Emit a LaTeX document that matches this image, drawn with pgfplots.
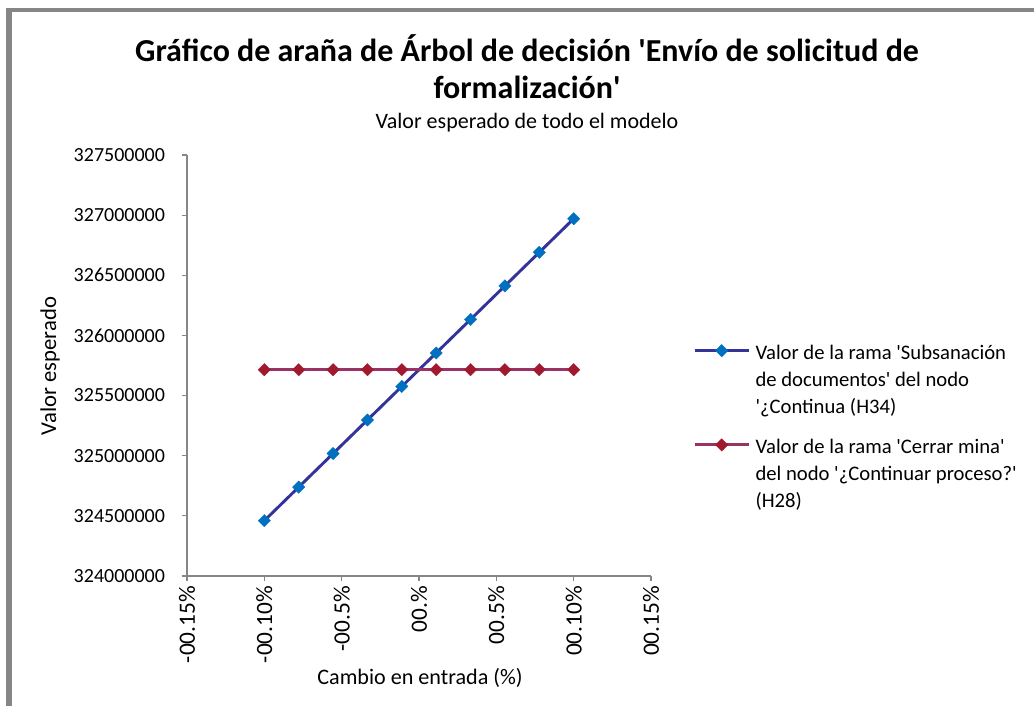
\documentclass[border=0pt]{standalone}
\usepackage{fontspec}
\setmainfont{Carlito}
\usepackage{pgfplots}
\pgfplotsset{compat=1.18}
\definecolor{axgray}{HTML}{868686}
\definecolor{blueline}{HTML}{333399}
\definecolor{bluemark}{HTML}{0070C0}
\definecolor{redline}{HTML}{993366}
\definecolor{redmark}{HTML}{A0192E}
\newcommand\q{\textquotesingle}
\pgfplotstableread{
x y
-0.1 324460000
-0.077778 324739000
-0.055556 325018000
-0.033333 325297000
-0.011111 325576000
0.011111 325854000
0.033333 326133000
0.055556 326412000
0.077778 326691000
0.1 326970000
}\bluedata
\pgfplotstableread{
x y
-0.1 325715000
-0.077778 325715000
-0.055556 325715000
-0.033333 325715000
-0.011111 325715000
0.011111 325715000
0.033333 325715000
0.055556 325715000
0.077778 325715000
0.1 325715000
}\reddata
\begin{document}
\begin{tikzpicture}
\useasboundingbox (0,0) rectangle (775.5pt,529.5pt);
\fill[axgray] (4.5pt,0pt) rectangle (9pt,523.5pt);
\fill[axgray] (4.5pt,523.5pt) rectangle (775.5pt,520.5pt);
\node[anchor=base, font=\fontsize{24}{28}\selectfont\bfseries] at (395.25pt,483pt) {Gráfico de araña de Árbol de decisión \q Envío de solicitud de};
\node[anchor=base, font=\fontsize{24}{28}\selectfont\bfseries] at (395.25pt,455.25pt) {formalización\q};
\node[anchor=base, font=\fontsize{16.5}{20}\selectfont] at (395.25pt,432.75pt) {Valor esperado de todo el modelo};
\node[rotate=90, font=\fontsize{17}{20}\selectfont] at (37.5pt,255pt) {Valor esperado};
\node[font=\fontsize{16.6}{20}\selectfont] at (315pt,21pt) {Cambio en entrada (\%)};
\begin{axis}[
 at={(140.25pt,97.5pt)}, anchor=south west,
 scale only axis, width=348pt, height=315.75pt,
 xmin=-0.15, xmax=0.15, ymin=324000000, ymax=327500000,
 axis lines=left, axis line style={-, axgray, line width=0.9pt},
 tick align=outside, major tick length=4pt,
 tick style={axgray, line width=0.9pt},
 xtick={-0.15,-0.1,-0.05,0,0.05,0.1,0.15},
 xticklabels={-00.15\%,-00.10\%,-00.5\%,00.\%,00.5\%,00.10\%,00.15\%},
 xticklabel style={rotate=90, anchor=east, font=\fontsize{17.5}{20}\selectfont},
 ytick={324000000,324500000,325000000,325500000,326000000,326500000,327000000,327500000},
 yticklabels={324000000,324500000,325000000,325500000,326000000,326500000,327000000,327500000},
 yticklabel style={font=\fontsize{15}{18}\selectfont, xshift=-9pt},
 scaled y ticks=false, scaled x ticks=false,
 clip=false,
 legend style={at={(1.0905,0.567)}, anchor=north west, draw=none, fill=none,
   inner sep=0pt, row sep=51pt, column sep=2pt,
   font=\fontsize{15.5}{20.25}\selectfont},
 legend cell align=left,
 legend image code/.code={\draw[mark repeat=2,mark phase=2,#1] plot coordinates {(0pt,0pt) (20.25pt,0pt) (40.5pt,0pt)};},
]
\addplot[blueline, line width=2.2pt, mark=square*, mark size=3.3pt,
  mark options={rotate=45, fill=bluemark, draw=bluemark, line width=0.2pt}] table[x=x,y=y] {\bluedata};
\addlegendentry{\begin{tabular}[t]{@{}l@{}}Valor de la rama \q Subsanación\\de documentos\q{} del nodo\\\q¿Continua (H34)\end{tabular}}
\addplot[redline, line width=2.2pt, mark=square*, mark size=3.3pt,
  mark options={rotate=45, fill=redmark, draw=redmark, line width=0.2pt}] table[x=x,y=y] {\reddata};
\addlegendentry{\begin{tabular}[t]{@{}l@{}}Valor de la rama \q Cerrar mina\q\\del nodo \q¿Continuar proceso?\q\\(H28)\end{tabular}}
\end{axis}
\end{tikzpicture}
\end{document}
